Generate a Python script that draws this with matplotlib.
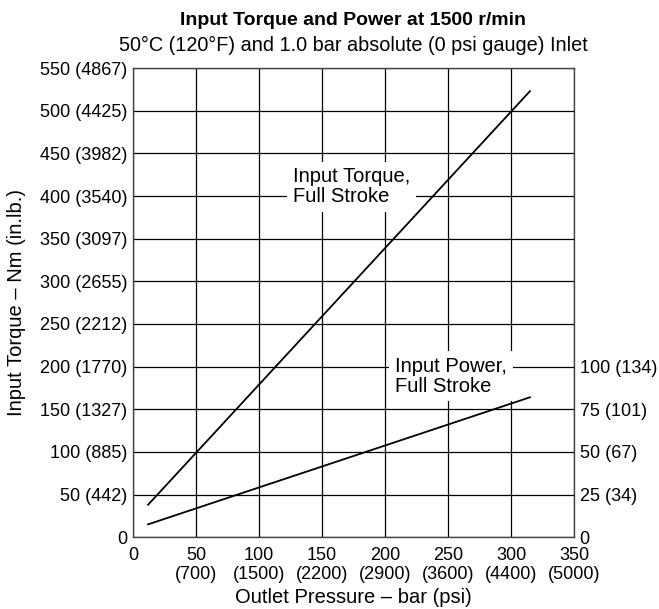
import matplotlib
matplotlib.use("Agg")
import matplotlib.pyplot as plt

plt.rcParams['font.family'] = ['Liberation Sans', 'DejaVu Sans']

# Data
pressure_bar = [12, 315]
torque_nm = [38, 523]
power_kw = [7.5, 82]

x_ticks = [0, 50, 100, 150, 200, 250, 300, 350]
x_labels = ["0", "50\n(700)", "100\n(1500)", "150\n(2200)", "200\n(2900)",
            "250\n(3600)", "300\n(4400)", "350\n(5000)"]
y_ticks = [0, 50, 100, 150, 200, 250, 300, 350, 400, 450, 500, 550]
y_labels = ["0", "50 (442)", "100 (885)", "150 (1327)", "200 (1770)", "250 (2212)",
            "300 (2655)", "350 (3097)", "400 (3540)", "450 (3982)", "500 (4425)",
            "550 (4867)"]
p_ticks = [0, 25, 50, 75, 100]
p_labels = ["0", "25 (34)", "50 (67)", "75 (101)", "100 (134)"]

fig = plt.figure(figsize=(6.59, 6.09), dpi=100)
ax = fig.add_axes([0.2018, 0.118, 0.6692, 0.770])
ax.set_xlim(0, 350)
ax.set_ylim(0, 550)
ax.set_xticks(x_ticks)
ax.set_xticklabels(x_labels, fontsize=13, linespacing=1.2)
ax.set_yticks(y_ticks)
ax.set_yticklabels(y_labels, fontsize=13)
ax.tick_params(axis='y', length=0, pad=4)
ax.tick_params(axis='x', length=0, pad=7)
ax.grid(True, color='black', linewidth=0.9)
for s in ax.spines.values():
    s.set_color('#444444')
    s.set_linewidth(1.0)

ax.plot(pressure_bar, torque_nm, color='black', linewidth=1.3, zorder=3)

ax2 = ax.twinx()
ax2.set_ylim(0, 275)
ax2.set_yticks(p_ticks)
ax2.set_yticklabels(p_labels, fontsize=13)
ax2.tick_params(length=0, pad=4)
for s in ax2.spines.values():
    s.set_visible(False)
ax2.plot(pressure_bar, power_kw, color='black', linewidth=1.3, zorder=3)

ax.text(127, 411, "Input Torque,\nFull Stroke", fontsize=14.5, ha='left', va='center',
        linespacing=1.05, zorder=4,
        bbox=dict(facecolor='white', edgecolor='none', pad=4))
ax2.text(208, 94.4, "Input Power,\nFull Stroke", fontsize=14.5, ha='left', va='center',
         linespacing=1.05, zorder=4,
         bbox=dict(facecolor='white', edgecolor='none', pad=4))

ax.set_xlabel("Outlet Pressure – bar (psi)", fontsize=14.5, labelpad=3)
ax.set_ylabel("Input Torque – Nm (in.lb.)", fontsize=14.5, labelpad=10)

fig.text(0.536, 0.967, "Input Torque and Power at 1500 r/min", fontsize=14,
         fontweight='bold', ha='center', va='center')
fig.text(0.536, 0.926, "50°C (120°F) and 1.0 bar absolute (0 psi gauge) Inlet",
         fontsize=14.3, ha='center', va='center')

fig.savefig("out.png", dpi=100)
